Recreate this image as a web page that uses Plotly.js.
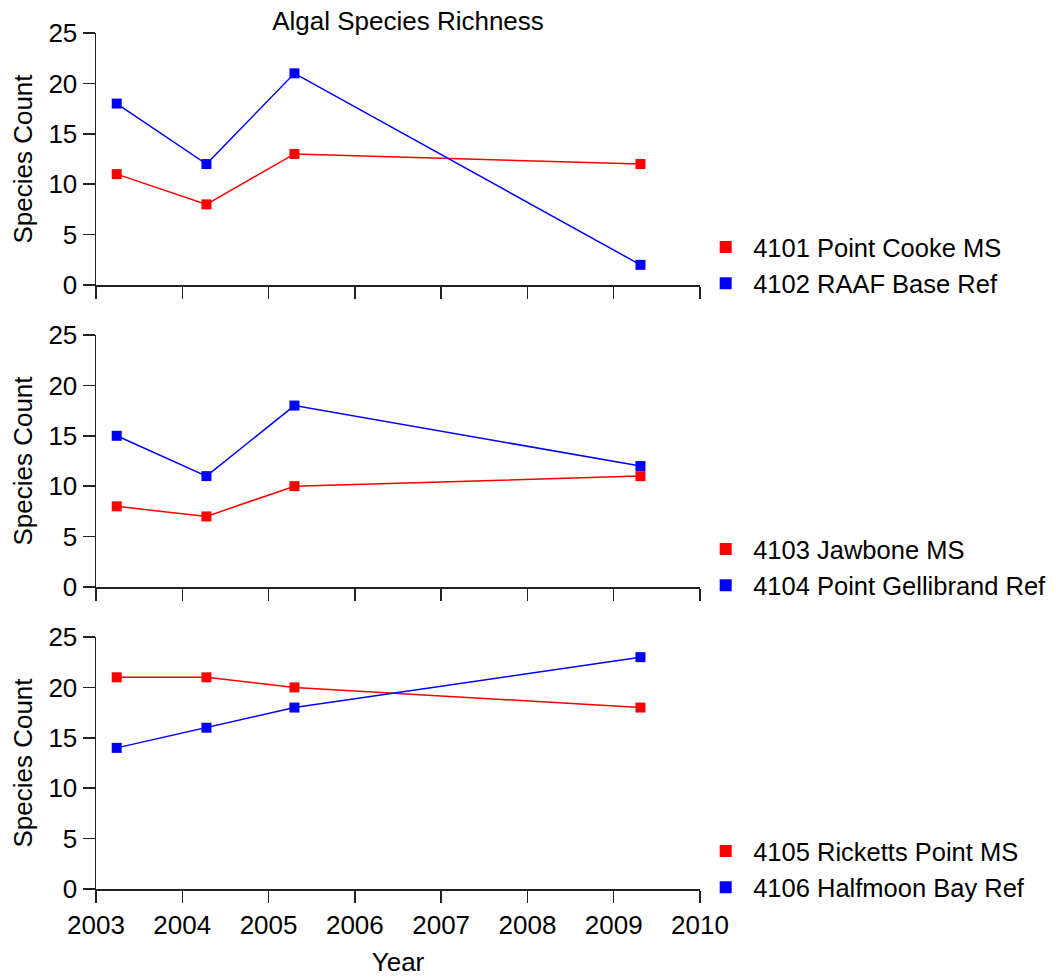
<!DOCTYPE html>
<html>
<head>
<meta charset="utf-8">
<script src="https://cdn.plot.ly/plotly-3.0.1.min.js"></script>
<style>
  html, body { margin: 0; padding: 0; background: #fff; }
  #chart { width: 1056px; height: 977px; }
</style>
</head>
<body>
<div id="chart"></div>
<script>
// Sampling dates (decimal years) shared by all sites
const sampleYears = [2003.24, 2004.28, 2005.30, 2009.31];

// Species counts per site
const pointCookeMS = [11, 8, 13, 12];
const raafBaseRef = [18, 12, 21, 2];
const jawboneMS = [8, 7, 10, 11];
const pointGellibrandRef = [15, 11, 18, 12];
const rickettsPointMS = [21, 21, 20, 18];
const halfmoonBayRef = [14, 16, 18, 23];

const siteNames = [
  '4101 Point Cooke MS', '4102 RAAF Base Ref',
  '4103 Jawbone MS', '4104 Point Gellibrand Ref',
  '4105 Ricketts Point MS', '4106 Halfmoon Bay Ref'
];
const xTickVals = [2003, 2004, 2005, 2006, 2007, 2008, 2009, 2010];
const yTickVals = [0, 5, 10, 15, 20, 25];

const RED = '#ff0000';
const BLUE = '#0000ff';
const FONT = 'Liberation Sans, Arial, sans-serif';
const FS = 26;

const panels = [
  { red: pointCookeMS, blue: raafBaseRef, names: [siteNames[0], siteNames[1]] },
  { red: jawboneMS, blue: pointGellibrandRef, names: [siteNames[2], siteNames[3]] },
  { red: rickettsPointMS, blue: halfmoonBayRef, names: [siteNames[4], siteNames[5]] }
];

const traces = [];
panels.forEach((p, i) => {
  const xa = i === 0 ? 'x' : 'x' + (i + 1);
  const ya = i === 0 ? 'y' : 'y' + (i + 1);
  const lg = i === 0 ? 'legend' : 'legend' + (i + 1);
  [[p.red, RED, p.names[0]], [p.blue, BLUE, p.names[1]]].forEach(([vals, col, name]) => {
    traces.push({
      x: sampleYears, y: vals, xaxis: xa, yaxis: ya,
      mode: 'lines+markers', name: name, showlegend: false,
      line: { color: col, width: 1.5 },
      marker: { symbol: 'square', size: 10, color: col }
    });
    // marker-only legend entry
    traces.push({
      x: [null], y: [null], xaxis: xa, yaxis: ya,
      mode: 'markers', name: name, legend: lg,
      marker: { symbol: 'square', size: 12, color: col }
    });
  });
});

const H = 856;
const domains = [[604 / H, 1], [302 / H, 554 / H], [0, 252 / H]];

function xAxis(i) {
  return {
    domain: [0, 1], range: [2003, 2010], anchor: i === 0 ? 'y' : 'y' + (i + 1),
    tickvals: xTickVals, ticks: 'outside', ticklen: 12, tickwidth: 1.5, tickcolor: '#222',
    showline: true, linecolor: '#222', linewidth: 1.5, showgrid: false, zeroline: false,
    showticklabels: i === 2,
    tickfont: { size: FS, color: '#000', family: FONT },
    title: i === 2 ? { text: 'Year', font: { size: FS, color: '#000', family: FONT }, standoff: 14 } : { text: '' },
    matches: i === 0 ? undefined : 'x'
  };
}
function yAxis(i) {
  return {
    domain: domains[i], range: [0, 25], anchor: i === 0 ? 'x' : 'x' + (i + 1),
    tickvals: yTickVals, ticks: 'outside', ticklen: 12, tickwidth: 1.5, tickcolor: '#222',
    showline: true, linecolor: '#222', linewidth: 1.5, showgrid: false, zeroline: false,
    tickfont: { size: FS, color: '#000', family: FONT },
    title: { text: 'Species Count', font: { size: FS, color: '#000', family: FONT }, standoff: 8 }
  };
}
function legend(i) {
  return {
    x: 0.997, xanchor: 'left', y: domains[i][0] - 22 / H, yanchor: 'bottom',
    yref: 'paper', xref: 'paper',
    font: { size: 25.5, color: '#000', family: FONT },
    bgcolor: 'rgba(0,0,0,0)', borderwidth: 0, itemwidth: 45,
    tracegroupgap: 0
  };
}

const layout = {
  width: 1056, height: 977,
  margin: { l: 96, r: 356, t: 33, b: 88, autoexpand: false },
  paper_bgcolor: '#fff', plot_bgcolor: '#fff',
  font: { family: FONT, color: '#000' },
  title: { text: 'Algal Species Richness', x: 408 / 1056, xanchor: 'center', y: 1 - 21 / 977, yanchor: 'middle',
           font: { size: FS, color: '#000', family: FONT } },
  showlegend: true,
  xaxis: xAxis(0), yaxis: yAxis(0),
  xaxis2: xAxis(1), yaxis2: yAxis(1),
  xaxis3: xAxis(2), yaxis3: yAxis(2),
  legend: legend(0), legend2: legend(1), legend3: legend(2)
};

Plotly.newPlot('chart', traces, layout, { displayModeBar: false, staticPlot: true });
</script>
</body>
</html>
